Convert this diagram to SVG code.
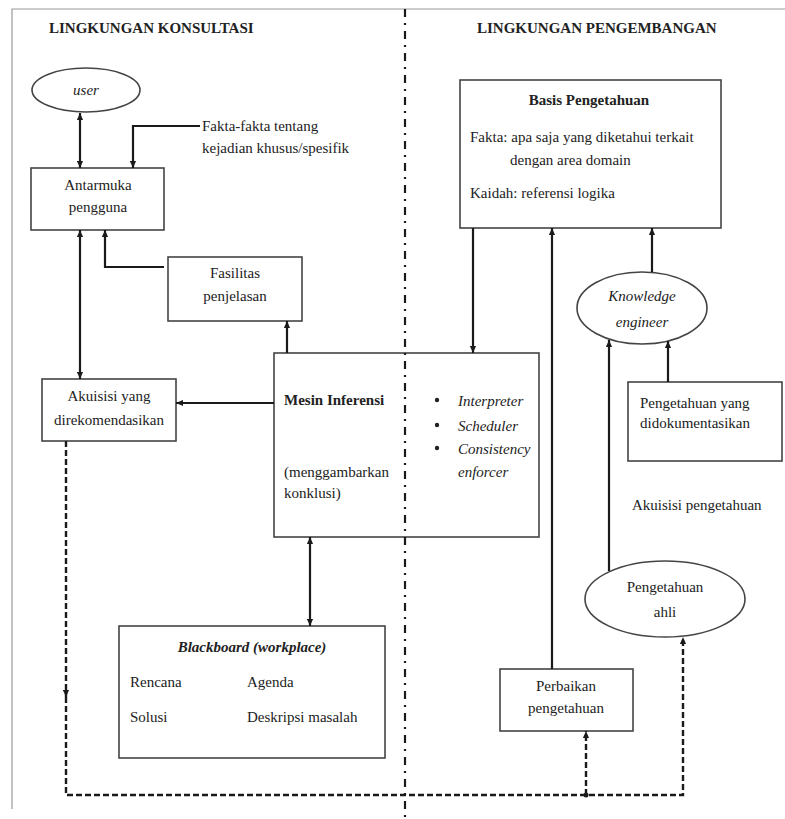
<svg xmlns="http://www.w3.org/2000/svg" width="785" height="819" viewBox="0 0 785 819">
  <defs>
    <marker id="arr" viewBox="0 0 8 8" refX="8" refY="4" markerWidth="7" markerHeight="7" markerUnits="userSpaceOnUse" orient="auto-start-reverse">
      <path d="M0,0.5 L8,4 L0,7.5 z" fill="#1a1a1a"/>
    </marker>
    <style>
      .box { fill: #fff; stroke: #444; stroke-width: 1.6; }
      .ell { fill: #fff; stroke: #444; stroke-width: 1.6; }
      .t { font-family: "Liberation Serif", "Times New Roman", serif; font-size: 15px; fill: #222; }
      .c { text-anchor: middle; }
      .b { font-weight: bold; }
      .i { font-style: italic; }
      .ln { fill: none; stroke: #1a1a1a; stroke-width: 2.2; }
      .dash { fill: none; stroke: #1a1a1a; stroke-width: 2.4; stroke-dasharray: 6 3; }
      .frame { fill: none; stroke: #9a9a9a; stroke-width: 1.2; }
      .divider { fill: none; stroke: #1a1a1a; stroke-width: 2.2; stroke-dasharray: 8 6 2 6; }
    </style>
  </defs>

  <rect width="785" height="819" fill="#fff"/>
  <path class="frame" d="M12,809 V9 H785"/>

  <!-- section headings -->
  <text class="t b" x="49" y="33">LINGKUNGAN KONSULTASI</text>
  <text class="t b" x="477" y="33">LINGKUNGAN PENGEMBANGAN</text>

  <!-- nodes -->
  <g id="user">
    <ellipse class="ell" cx="86" cy="90" rx="54" ry="22"/>
    <text class="t c i" x="86" y="95">user</text>
  </g>

  <g id="fakta-label">
    <text class="t" x="202" y="131">Fakta-fakta tentang</text>
    <text class="t" x="202" y="153">kejadian khusus/spesifik</text>
  </g>

  <g id="antarmuka">
    <rect class="box" x="31" y="168" width="133" height="62"/>
    <text class="t c" x="98" y="190">Antarmuka</text>
    <text class="t c" x="98" y="212">pengguna</text>
  </g>

  <g id="fasilitas">
    <rect class="box" x="168" y="257" width="134" height="64"/>
    <text class="t c" x="235" y="278">Fasilitas</text>
    <text class="t c" x="235" y="301">penjelasan</text>
  </g>

  <g id="akuisisi">
    <rect class="box" x="42" y="379" width="134" height="62"/>
    <text class="t c" x="109" y="401">Akuisisi yang</text>
    <text class="t c" x="109" y="425">direkomendasikan</text>
  </g>

  <g id="mesin-inferensi">
    <rect class="box" x="274" y="353" width="265" height="184"/>
    <text class="t b" x="284" y="405">Mesin Inferensi</text>
    <text class="t" x="284" y="477">(menggambarkan</text>
    <text class="t" x="284" y="498">konklusi)</text>
    <circle cx="437" cy="400" r="2.2" fill="#222"/>
    <circle cx="437" cy="425" r="2.2" fill="#222"/>
    <circle cx="437" cy="448" r="2.2" fill="#222"/>
    <text class="t i" x="458" y="406">Interpreter</text>
    <text class="t i" x="458" y="431">Scheduler</text>
    <text class="t i" x="458" y="454">Consistency</text>
    <text class="t i" x="458" y="477">enforcer</text>
  </g>

  <g id="blackboard">
    <rect class="box" x="119" y="626" width="266" height="132"/>
    <text class="t c b i" x="252" y="652">Blackboard (workplace)</text>
    <text class="t" x="130" y="687">Rencana</text>
    <text class="t" x="247" y="687">Agenda</text>
    <text class="t" x="130" y="722">Solusi</text>
    <text class="t" x="247" y="722">Deskripsi masalah</text>
  </g>

  <g id="basis-pengetahuan">
    <rect class="box" x="460" y="80" width="261" height="148"/>
    <text class="t c b" x="589" y="105">Basis Pengetahuan</text>
    <text class="t" x="470" y="142">Fakta: apa saja yang diketahui terkait</text>
    <text class="t" x="510" y="165">dengan area domain</text>
    <text class="t" x="470" y="198">Kaidah: referensi logika</text>
  </g>

  <g id="knowledge-engineer">
    <ellipse class="ell" cx="642" cy="308" rx="65" ry="36"/>
    <text class="t c i" x="642" y="301">Knowledge</text>
    <text class="t c i" x="642" y="327">engineer</text>
  </g>

  <g id="pengetahuan-dokumentasi">
    <rect class="box" x="628" y="382" width="154" height="79"/>
    <text class="t" x="640" y="408">Pengetahuan yang</text>
    <text class="t" x="640" y="428">didokumentasikan</text>
  </g>

  <g id="akuisisi-label">
    <text class="t" x="632" y="510">Akuisisi pengetahuan</text>
  </g>

  <g id="pengetahuan-ahli">
    <ellipse class="ell" cx="665" cy="599" rx="80" ry="38"/>
    <text class="t c" x="665" y="592">Pengetahuan</text>
    <text class="t c" x="665" y="617">ahli</text>
  </g>

  <g id="perbaikan">
    <rect class="box" x="500" y="669" width="133" height="62"/>
    <text class="t c" x="566" y="691">Perbaikan</text>
    <text class="t c" x="566" y="713">pengetahuan</text>
  </g>

  <!-- connectors -->
  <g id="connectors">
    <path class="ln" d="M80,113 V168" marker-start="url(#arr)" marker-end="url(#arr)"/>
    <path class="ln" d="M200,126 H133 V168" marker-end="url(#arr)"/>
    <path class="ln" d="M80,230 V379" marker-start="url(#arr)" marker-end="url(#arr)"/>
    <path class="ln" d="M164,267 H105 V230" marker-end="url(#arr)"/>
    <path class="ln" d="M287,353 V321" marker-end="url(#arr)"/>
    <path class="ln" d="M274,403 H176" marker-end="url(#arr)"/>
    <path class="ln" d="M310,537 V626" marker-start="url(#arr)" marker-end="url(#arr)"/>
    <path class="ln" d="M473,228 V353" marker-end="url(#arr)"/>
    <path class="ln" d="M552,669 V228" marker-end="url(#arr)"/>
    <path class="ln" d="M652,272 V228" marker-end="url(#arr)"/>
    <path class="ln" d="M609,571 V340" marker-end="url(#arr)"/>
    <path class="ln" d="M668,382 V341" marker-end="url(#arr)"/>
    <!-- dashed feedback loop -->
    <path class="dash" d="M66,441 V697" marker-end="url(#arr)"/>
    <path class="dash" d="M66,697 V795 H683 V637" marker-end="url(#arr)"/>
    <path class="dash" d="M586,795 V731" marker-end="url(#arr)"/>
    <circle cx="586" cy="795" r="2.5" fill="#1a1a1a"/>
  </g>

  <!-- boundary between the two environments -->
  <path class="divider" d="M405,9 V819"/>
</svg>
